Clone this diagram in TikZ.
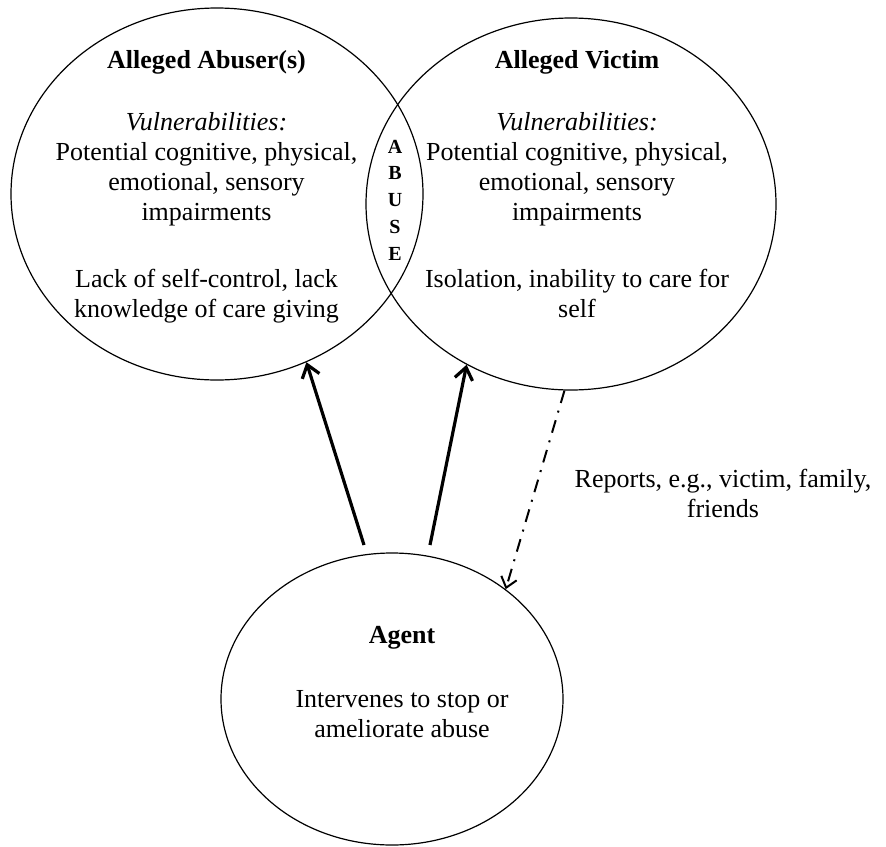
\documentclass[tikz,border=0pt]{standalone}
\usepackage{fontspec}
\setmainfont{Liberation Serif}
\usetikzlibrary{shapes.geometric,arrows.meta}
\begin{document}
\begin{tikzpicture}[x=1pt, y=-1pt,
  party/.style={draw, ellipse, line width=1.2pt, inner sep=0pt},
  words/.style={align=center, anchor=base, inner sep=0pt, font=\fontsize{26}{30}\selectfont},
  acts/.style={line width=3.2pt, -{Straight Barb[length=12pt, width=18pt]}},
  reports/.style={line width=2pt, dash pattern=on 13pt off 8pt on 2pt off 8pt,
    -{Straight Barb[length=10pt, width=16pt]}}]
\useasboundingbox (0,0) rectangle (886,846);
\node[party, minimum width=412pt, minimum height=372pt] (abuser) at (217,194) {};
\node[party, minimum width=410pt, minimum height=372pt] (victim) at (571,204) {};
\node[party, minimum width=342pt, minimum height=292pt] (agent) at (392,699) {};
\node[words] (abusertext) at (206.5,317) {\textbf{Alleged Abuser(s)}\\[32pt]
  \textit{Vulnerabilities:}\\ Potential cognitive, physical,\\ emotional, sensory\\ impairments\\[37pt]
  Lack of self-control, lack\\ knowledge of care giving};
\node[words] (victimtext) at (577,317) {\textbf{Alleged Victim}\\[32pt]
  \textit{Vulnerabilities:}\\ Potential cognitive, physical,\\ emotional, sensory\\ impairments\\[37pt]
  Isolation, inability to care for\\ self};
\node[words, font=\bfseries\fontsize{20}{26.7}\selectfont] (abuse) at (395,260) {A\\B\\U\\S\\E};
\node[words] (agenttext) at (402,737) {\textbf{Agent}\\[34pt]
  Intervenes to stop or\\ ameliorate abuse};
\node[words] (reportstext) at (723,517) {Reports, e.g., victim, family,\\ friends};
\coordinate (push1) at (364,545);
\coordinate (push2) at (430,545);
\draw[acts] (push1) -- (abuser.-62);
\draw[acts] (push2) -- (victim.-123);
\draw[reports] (victim.-92) -- (agent.44);
\end{tikzpicture}
\end{document}
